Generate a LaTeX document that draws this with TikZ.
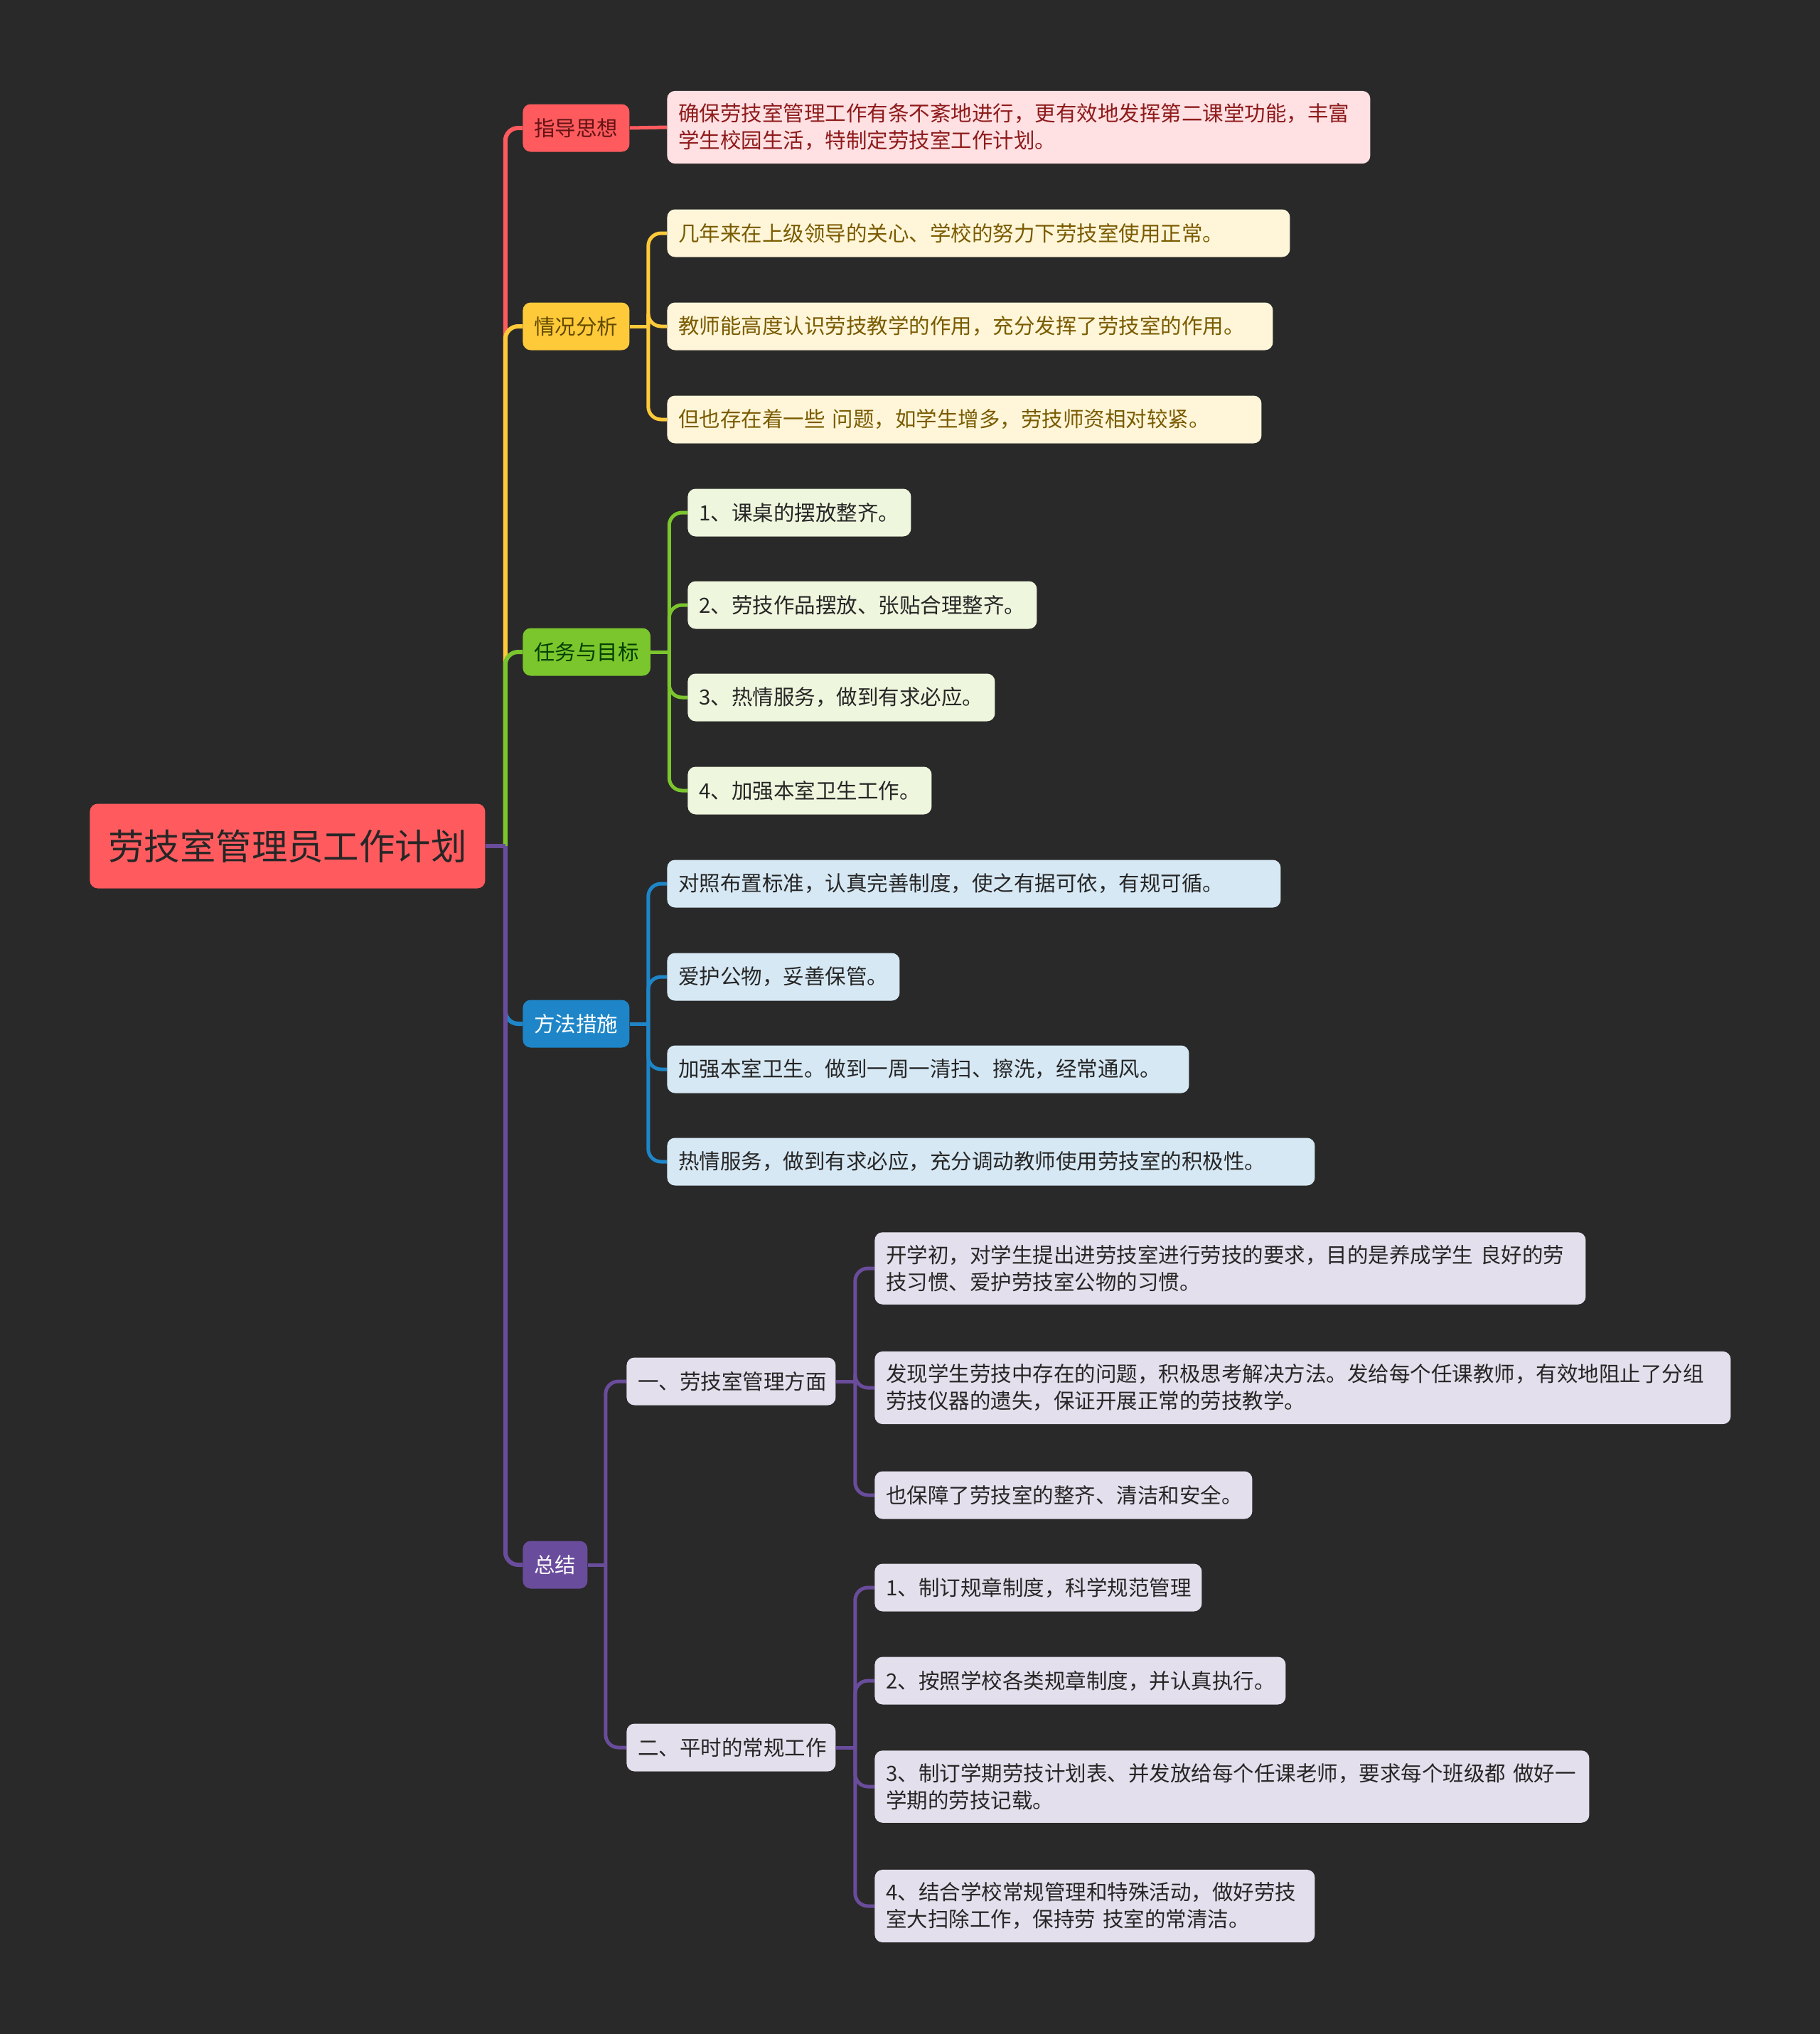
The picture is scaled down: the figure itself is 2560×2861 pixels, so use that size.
\documentclass[tikz,border=0pt]{standalone}
\usepackage{fontspec}
\setmainfont{Noto Sans CJK SC}
\usetikzlibrary{calc}
\definecolor{bgc}{HTML}{292929}
\definecolor{cred}{HTML}{FF5B5F}
\definecolor{cyel}{HTML}{FFCA3A}
\definecolor{cgrn}{HTML}{7BC62D}
\definecolor{cblu}{HTML}{1E86C8}
\definecolor{cpur}{HTML}{6A4C9C}
\definecolor{fred}{HTML}{FFE0E3}
\definecolor{fyel}{HTML}{FFF6D9}
\definecolor{fgrn}{HTML}{EEF6DD}
\definecolor{fblu}{HTML}{D6E8F4}
\definecolor{fpur}{HTML}{E4DFEC}
\definecolor{tred}{HTML}{8E1B1B}
\definecolor{tyel}{HTML}{7A5B00}
\definecolor{tdark}{HTML}{262626}
\pgfdeclarelayer{bg}
\pgfsetlayers{bg,main}
\tikzset{
  box/.style={rounded corners=5.5pt, anchor=west, inner xsep=8pt, inner ysep=9pt,
    minimum height=33.5pt, align=left, font=\fontsize{14.75}{19}\selectfont},
  bw/.style={text width=#1},
  lone/.style={line width=3pt, rounded corners=9pt},
  ltwo/.style={line width=2.5pt, rounded corners=9pt},
}
\begin{document}
\begin{tikzpicture}[x=0.5pt,y=-0.5pt]
\useasboundingbox (0,0) rectangle (2560,2861);
% root
\node[box, fill=cred, text=tdark, inner xsep=13pt, minimum height=59.5pt,
  font=\fontsize{25.2}{30}\selectfont] (root) at (126,1190) {劳技室管理员工作计划};
% level 1
\node[box, fill=cred, text=tred!70!black] (zd) at (735,180) {指导思想};
\node[box, fill=cyel, text=tyel!80!black] (qk) at (735,459) {情况分析};
\node[box, fill=cgrn, text=black!75!green] (rw) at (735,917) {任务与目标};
\node[box, fill=cblu, text=white] (ff) at (735,1440) {方法措施};
\node[box, fill=cpur, text=white] (zj) at (735,2201) {总结};
% 指导思想
\node[box, bw=478.5pt, fill=fred, text=tred] (zd1) at (938,179) {确保劳技室管理工作有条不紊地进行，更有效地发挥第二课堂功能，丰富\\学生校园生活，特制定劳技室工作计划。};
% 情况分析
\node[box, bw=422pt, fill=fyel, text=tyel] (qk1) at (938,328) {几年来在上级领导的关心、学校的努力下劳技室使用正常。};
\node[box, bw=410pt, fill=fyel, text=tyel] (qk2) at (938,459) {教师能高度认识劳技教学的作用，充分发挥了劳技室的作用。};
\node[box, bw=402pt, fill=fyel, text=tyel] (qk3) at (938,590) {但也存在着一些 问题，如学生增多，劳技师资相对较紧。};
% 任务与目标
\node[box, bw=141pt, fill=fgrn, text=tdark] (rw1) at (967,721) {1、课桌的摆放整齐。};
\node[box, bw=229.5pt, fill=fgrn, text=tdark] (rw2) at (967,851) {2、劳技作品摆放、张贴合理整齐。};
\node[box, bw=200pt, fill=fgrn, text=tdark] (rw3) at (967,981) {3、热情服务，做到有求必应。};
\node[box, bw=155.5pt, fill=fgrn, text=tdark] (rw4) at (967,1112) {4、加强本室卫生工作。};
% 方法措施
\node[box, bw=415.5pt, fill=fblu, text=tdark] (ff1) at (938,1243) {对照布置标准，认真完善制度，使之有据可依，有规可循。};
\node[box, bw=147.5pt, fill=fblu, text=tdark] (ff2) at (938,1374) {爱护公物，妥善保管。};
\node[box, bw=351pt, fill=fblu, text=tdark] (ff3) at (938,1504) {加强本室卫生。做到一周一清扫、擦洗，经常通风。};
\node[box, bw=439.5pt, fill=fblu, text=tdark] (ff4) at (938,1634) {热情服务，做到有求必应，充分调动教师使用劳技室的积极性。};
% 总结
\node[box, bw=131pt, fill=fpur, text=tdark] (zja) at (881,1943) {一、劳技室管理方面};
\node[box, bw=131pt, fill=fpur, text=tdark] (zjb) at (881,2458) {二、平时的常规工作};
\node[box, bw=484pt, fill=fpur, text=tdark] (za1) at (1230,1784) {开学初，对学生提出进劳技室进行劳技的要求，目的是养成学生 良好的劳\\技习惯、爱护劳技室公物的习惯。};
\node[box, bw=586pt, fill=fpur, text=tdark] (za2) at (1230,1952) {发现学生劳技中存在的问题，积极思考解决方法。发给每个任课教师，有效地阻止了分组\\劳技仪器的遗失，保证开展正常的劳技教学。};
\node[box, bw=249.5pt, fill=fpur, text=tdark] (za3) at (1230,2103) {也保障了劳技室的整齐、清洁和安全。};
\node[box, bw=214pt, fill=fpur, text=tdark] (zb1) at (1230,2233) {1、制订规章制度，科学规范管理};
\node[box, bw=273pt, fill=fpur, text=tdark] (zb2) at (1230,2364) {2、按照学校各类规章制度，并认真执行。};
\node[box, bw=486.5pt, fill=fpur, text=tdark] (zb3) at (1230,2513) {3、制订学期劳技计划表、并发放给每个任课老师，要求每个班级都 做好一\\学期的劳技记载。};
\node[box, bw=293.5pt, fill=fpur, text=tdark] (zb4) at (1230,2681) {4、结合学校常规管理和特殊活动，做好劳技\\室大扫除工作，保持劳 技室的常清洁。};
% junctions
\coordinate (jR) at ($(root.east)+(28,0)$);
\coordinate (jQ) at ($(qk.east)+(26,0)$);
\coordinate (jW) at ($(rw.east)+(26,0)$);
\coordinate (jF) at ($(ff.east)+(26,0)$);
\coordinate (jZ) at ($(zj.east)+(25,0)$);
\coordinate (jA) at ($(zja.east)+(27,0)$);
\coordinate (jB) at ($(zjb.east)+(27,0)$);
\begin{pgfonlayer}{bg}
\fill[bgc] (0,0) rectangle (2560,2861);
% red
\draw[lone, cred] (jR) |- (zd.west);
\draw[ltwo, cred] (zd.east) -- (zd1.west);
% yellow
\draw[lone, cyel] (jR) |- (qk.west);
\draw[ltwo, cyel] (qk.east) -- (jQ);
\foreach \c in {qk1,qk2,qk3} \draw[ltwo, cyel] (jQ) |- (\c.west);
% green
\draw[lone, cgrn] (jR) |- (rw.west);
\draw[ltwo, cgrn] (rw.east) -- (jW);
\foreach \c in {rw1,rw2,rw3,rw4} \draw[ltwo, cgrn] (jW) |- (\c.west);
% blue
\draw[lone, cblu] (jR) |- (ff.west);
\draw[ltwo, cblu] (ff.east) -- (jF);
\foreach \c in {ff1,ff2,ff3,ff4} \draw[ltwo, cblu] (jF) |- (\c.west);
% purple
\draw[lone, cpur] (jR) |- (zj.west);
\draw[lone, cpur] (root.east) -- (jR);
\draw[ltwo, cpur] (zj.east) -- (jZ);
\foreach \c in {zja,zjb} \draw[ltwo, cpur] (jZ) |- (\c.west);
\draw[ltwo, cpur] (zja.east) -- (jA);
\foreach \c in {za1,za2,za3} \draw[ltwo, cpur] (jA) |- (\c.west);
\draw[ltwo, cpur] (zjb.east) -- (jB);
\foreach \c in {zb1,zb2,zb3,zb4} \draw[ltwo, cpur] (jB) |- (\c.west);
\end{pgfonlayer}
\end{tikzpicture}
\end{document}
